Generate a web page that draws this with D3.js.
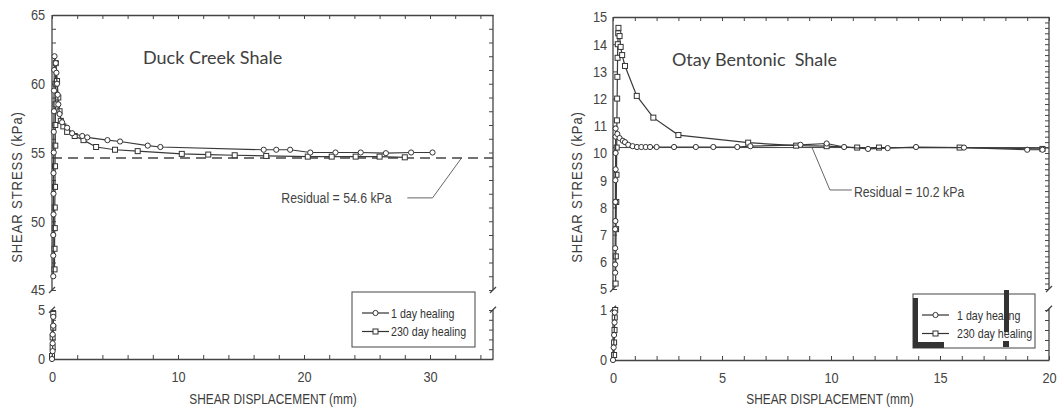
<!DOCTYPE html>
<meta charset="utf-8">
<style>
body { margin: 0; background: #fff; }
svg text { fill: #3c3c3c; }
.frame { stroke: #444; stroke-width: 1.3; fill: none; }
.tick line { stroke: #444; stroke-width: 1; }
.tick text { font-family: "Liberation Sans", Arial, sans-serif; font-size: 15px; fill: #444; }
.axis-title { font-family: "Liberation Sans", Arial, sans-serif; font-size: 14.5px; }
.panel-title { font-family: Lato, "Open Sans", sans-serif; font-size: 18px; white-space: pre; fill: #404040; }
.note { font-family: "Liberation Sans", Arial, sans-serif; font-size: 15px; fill: #444; }
.legend-text { font-family: "Liberation Sans", Arial, sans-serif; font-size: 13px; fill: #333; }
.curve { fill: none; stroke: #3a3a3a; stroke-width: 1.2; }
.mark { fill: #fff; stroke: #333; stroke-width: 1; }
</style>
<body>
<svg id="chart" width="1058" height="410"></svg>

<script src="https://cdn.jsdelivr.net/npm/d3@7/dist/d3.min.js"></script>
<script>
// ---- Duck Creek Shale ----
var duckDisp1 = [0, 0.05, 0.05, 0.05, 0.1, 0.1,
  0.1, 0.1, 0.1, 0.12, 0.12, 0.12, 0.14, 0.14, 0.16, 0.16, 0.18, 0.2, 0.3, 0.35, 0.4, 0.45, 0.5, 0.6, 0.8,
  1.2, 1.6, 2.4, 2.8, 4.4, 5.4, 7.6, 8.6, 16.8, 17.8, 18.9, 20.5, 22.5, 24.5, 26.5, 28.5, 30.2];
var duckStress1 = [0, 0.8, 1.6, 2.5, 3.4, 4.3,
  46, 47.5, 49, 50.5, 52, 53.5, 55, 56.5, 58, 59.5, 61, 62, 61.5, 60.8, 60, 59.2, 58.5, 57.8, 57.2,
  56.8, 56.4, 56.2, 56.1, 55.9, 55.8, 55.5, 55.4, 55.2, 55.2, 55.2, 55.0, 55.0, 55.0, 54.95, 55.0, 55.0];

var duckDisp230 = [0, 0.05, 0.05, 0.1, 0.1,
  0.2, 0.2, 0.22, 0.22, 0.24, 0.24, 0.26, 0.26, 0.28, 0.28, 0.3, 0.4, 0.5, 0.6, 0.7, 0.9,
  1.2, 1.8, 2.5, 3.5, 5, 6.8, 10.3, 12.4, 14.5, 17, 20.3, 22.2, 24.1, 26, 28];
var duckStress230 = [0.3, 1.2, 2.2, 3.2, 4.6,
  46.5, 48, 49.5, 51, 52.5, 54, 55.5, 57, 58.5, 60, 61.5, 60.2, 59, 58, 57.3, 56.9,
  56.5, 56.2, 55.9, 55.4, 55.2, 55.1, 54.9, 54.85, 54.8, 54.75, 54.7, 54.7, 54.7, 54.7, 54.65];

var duckXTicks = [0, 10, 20, 30];
var duckYLabels = [0, 5, 45, 50, 55, 60, 65];
var duckResidual = 54.6;

// ---- Otay Bentonic Shale ----
var otayDisp1 = [0, 0.03, 0.05, 0.07, 0.08,
  0.1, 0.1, 0.1, 0.1, 0.11, 0.11, 0.11, 0.12, 0.12, 0.12, 0.12, 0.2, 0.3, 0.45, 0.55, 0.7, 0.9,
  1.1, 1.3, 1.5, 1.7, 2.0, 2.8, 3.8, 4.6, 5.7, 6.3, 8.6, 9.8, 10.6, 11.7, 12.6, 13.9, 16.1, 19.0, 19.7];
var otayStress1 = [0, 0.25, 0.5, 0.75, 0.95,
  5.6, 5.9, 6.5, 7.2, 7.5, 8.2, 9.0, 9.4, 10.0, 10.6, 10.9, 10.7, 10.55, 10.45, 10.4, 10.3, 10.25,
  10.22, 10.22, 10.22, 10.22, 10.22, 10.22, 10.22, 10.22, 10.22, 10.25, 10.3, 10.35, 10.22, 10.15, 10.18, 10.22, 10.2, 10.12, 10.12];

var otayDisp230 = [0.05, 0.05, 0.07, 0.08, 0.1,
  0.12, 0.13, 0.14, 0.15, 0.16, 0.17, 0.18, 0.19, 0.2, 0.21, 0.22, 0.24, 0.25, 0.3, 0.35, 0.42, 0.55,
  1.09, 1.85, 3.0, 6.2, 8.4, 9.8, 11.2, 12.2, 15.9, 19.7];
var otayStress230 = [0.1, 0.35, 0.6, 0.85, 1.0,
  5.2, 6.2, 7.2, 8.2, 9.2, 10.2, 11.2, 12.0, 12.8, 13.5, 14.0, 14.4, 14.6, 14.3, 13.9, 13.6, 13.2,
  12.1, 11.3, 10.66, 10.38, 10.27, 10.25, 10.2, 10.2, 10.2, 10.15];

var otayXTicks = [0, 5, 10, 15, 20];
var otayYLabels = [0, 1, 5, 6, 7, 8, 9, 10, 11, 12, 13, 14, 15];
var otayResidual = 10.2;

var legendLabels = ["1 day healing", "230 day healing"];
var axisXTitle = "SHEAR DISPLACEMENT (mm)";
var axisYTitle = "SHEAR STRESS (kPa)";

var svg = d3.select("#chart");

// the scan uses a condensed face; squeeze the regular one horizontally
function narrowText(parent, cls, x, y, k, str, anchor, rot) {
  return parent.append("text").attr("class", cls)
    .attr("transform", "translate(" + x + "," + y + ")" + (rot ? " rotate(" + rot + ")" : "") + " scale(" + k + ",1)")
    .attr("text-anchor", anchor || "start")
    .text(str);
}

var panels = [
  {
    title: "Duck Creek Shale", titleX: 143, titleY: 64,
    left: 52, right: 493, top: 15, bottom: 359,
    xMax: 35, xMinorStep: 2, xLabels: duckXTicks,
    yDomain: [0, 5, 45, 65], yRange: [359, 310, 290, 15],
    lowTop: 5.6, yMinorLow: d3.range(0, 6, 1), yMinorUp: d3.range(45, 66, 1),
    yRightLow: d3.range(0, 6, 1), yRightUp: d3.range(45, 66, 1),
    yLabels: duckYLabels, yPad: 8,
    s1: [duckDisp1, duckStress1], s230: [duckDisp230, duckStress230],
    residual: duckResidual, residualDash: "10,6",
    note: "Residual = 54.6 kPa", noteAt: [18.2, 51.3],
    leader: [[28.2, 51.7], [30.2, 51.7], [32.5, 54.6]],
    legend: { x: 352, y: 292, w: 123, h: 55, lineX: 362, textX: 391 },
    ytX: 17, xtX: 273
  },
  {
    title: "Otay Bentonic  Shale", titleX: 672, titleY: 66,
    left: 613, right: 1049, top: 17, bottom: 360,
    xMax: 20, xMinorStep: 1, xLabels: otayXTicks,
    yDomain: [0, 1, 5, 15], yRange: [360, 310, 289, 17],
    lowTop: 1.25, yMinorLow: [0, 1], yMinorUp: d3.range(5, 16, 1),
    yRightLow: d3.range(0, 6, 1).map(function(d) { return d / 5; }),
    yRightUp: d3.range(25, 76, 1).map(function(d) { return d / 5; }),
    yLabels: otayYLabels, yPad: 7,
    s1: [otayDisp1, otayStress1], s230: [otayDisp230, otayStress230],
    residual: otayResidual, residualDash: null,
    note: "Residual = 10.2 kPa", noteAt: [11.05, 8.4],
    leader: [[10.96, 8.64], [9.95, 8.64], [9.13, 10.2]],
    legend: { x: 913, y: 294, w: 122, h: 54, lineX: 922, textX: 957, scanMarks: true },
    ytX: 577, xtX: 830
  }
];

panels.forEach(function(p) {
  var g = svg.append("g");
  var x = d3.scaleLinear().domain([0, p.xMax]).range([p.left, p.right]);
  var y = d3.scaleLinear().domain(p.yDomain).range(p.yRange);
  var lowMax = p.yDomain[1], upMin = p.yDomain[2], yMax = p.yDomain[3];

  // bottom axis, inward ticks
  var xb = g.append("g").attr("transform", "translate(0," + p.bottom + ")")
    .call(d3.axisBottom(x)
      .tickValues(d3.range(0, p.xMax + 0.001, p.xMinorStep))
      .tickSizeInner(-4).tickSizeOuter(0).tickPadding(12)
      .tickFormat(function(d) { return p.xLabels.indexOf(d) >= 0 ? d : ""; }));
  xb.attr("font-family", null).attr("font-size", null);
  xb.select(".domain").attr("class", "frame");
  xb.selectAll(".tick text").attr("transform", "scale(0.85,1)");

  // top frame
  var xt = g.append("g").attr("transform", "translate(0," + p.top + ")")
    .call(d3.axisTop(x).tickValues(d3.range(0, p.xMax + 0.001, p.xMinorStep))
      .tickSizeInner(-4).tickSizeOuter(0).tickFormat(""));
  xt.select(".domain").attr("class", "frame");

  // left axis (broken)
  var yl = g.append("g").attr("transform", "translate(" + p.left + ",0)")
    .call(d3.axisLeft(y).tickValues(p.yMinorLow.concat(p.yMinorUp))
      .tickSizeInner(-4).tickSizeOuter(0).tickPadding(p.yPad)
      .tickFormat(function(d) { return p.yLabels.indexOf(d) >= 0 ? d : ""; }));
  yl.attr("font-family", null).attr("font-size", null);
  yl.select(".domain").remove();
  yl.selectAll(".tick text").attr("transform", "scale(0.85,1)");

  // right frame (broken)
  var yr = g.append("g").attr("transform", "translate(" + p.right + ",0)")
    .call(d3.axisRight(y).tickValues(p.yRightLow.concat(p.yRightUp))
      .tickSizeInner(-4).tickSizeOuter(0).tickFormat(""));
  yr.select(".domain").remove();

  [p.left, p.right].forEach(function(ax) {
    g.append("line").attr("class", "frame")
      .attr("x1", ax).attr("x2", ax).attr("y1", y(0)).attr("y2", y(p.lowTop));
    g.append("line").attr("class", "frame")
      .attr("x1", ax).attr("x2", ax).attr("y1", y(upMin)).attr("y2", y(yMax));
    // break marks
    g.append("line").attr("class", "frame")
      .attr("x1", ax - 3).attr("x2", ax + 3).attr("y1", y(p.lowTop) + 3).attr("y2", y(p.lowTop) - 3);
    g.append("line").attr("class", "frame")
      .attr("x1", ax - 3).attr("x2", ax + 3).attr("y1", y(upMin) + 3).attr("y2", y(upMin) - 3);
  });

  // residual line
  g.append("line")
    .attr("x1", x(0)).attr("x2", x(p.xMax))
    .attr("y1", y(p.residual)).attr("y2", y(p.residual))
    .attr("stroke", "#444").attr("stroke-width", p.residualDash ? 1.3 : 1)
    .attr("stroke-dasharray", p.residualDash);

  var line = d3.line().x(function(d) { return x(d[0]); }).y(function(d) { return y(d[1]); });

  function drawSeries(s, shape) {
    var pts = d3.zip(s[0], s[1]);
    var low = pts.filter(function(d) { return d[1] <= lowMax; });
    var up = pts.filter(function(d) { return d[1] >= upMin; });
    [low, up].forEach(function(part) {
      g.append("path").attr("class", "curve").attr("d", line(part));
    });
    if (shape === "circle") {
      g.selectAll(null).data(pts).enter().append("circle").attr("class", "mark")
        .attr("cx", function(d) { return x(d[0]); })
        .attr("cy", function(d) { return y(d[1]); })
        .attr("r", 2.6);
    } else {
      g.selectAll(null).data(pts).enter().append("rect").attr("class", "mark")
        .attr("x", function(d) { return x(d[0]) - 2.5; })
        .attr("y", function(d) { return y(d[1]) - 2.5; })
        .attr("width", 5).attr("height", 5);
    }
  }
  drawSeries(p.s230, "square");
  drawSeries(p.s1, "circle");

  // annotation
  g.append("path")
    .attr("d", d3.line()(p.leader.map(function(d) { return [x(d[0]), y(d[1])]; })))
    .attr("fill", "none").attr("stroke", "#555").attr("stroke-width", 0.9);
  narrowText(g, "note", x(p.noteAt[0]), y(p.noteAt[1]), 0.82, p.note);

  // titles
  g.append("text").attr("class", "panel-title")
    .attr("x", p.titleX).attr("y", p.titleY).text(p.title);
  narrowText(g, "axis-title", p.xtX, 404, 0.82, axisXTitle, "middle");
  narrowText(g, "axis-title", p.ytX + 5, 187, 0.9, axisYTitle, "middle", -90)
    .style("letter-spacing", "1px");

  // legend
  var L = p.legend;
  var lg = g.append("g");
  lg.append("rect").attr("x", L.x).attr("y", L.y).attr("width", L.w).attr("height", L.h)
    .attr("fill", "#fff").attr("stroke", "#555").attr("stroke-width", 1.1);
  legendLabels.forEach(function(lab, i) {
    var cy = L.y + 21 + i * 18.5;
    lg.append("line").attr("x1", L.lineX).attr("x2", L.lineX + 27)
      .attr("y1", cy).attr("y2", cy).attr("stroke", "#333").attr("stroke-width", 1.2);
    var mx = L.lineX + 13.5;
    if (i === 0) {
      lg.append("circle").attr("class", "mark").attr("cx", mx).attr("cy", cy).attr("r", 2.6);
    } else {
      lg.append("rect").attr("class", "mark").attr("x", mx - 2.5).attr("y", cy - 2.5)
        .attr("width", 5).attr("height", 5);
    }
    narrowText(lg, "legend-text", L.textX, cy + 4.5, 0.82, lab);
  });
  if (L.scanMarks) {
    // heavy dark marks from the scan around this legend
    lg.append("rect").attr("x", L.x).attr("y", L.y + 4).attr("width", 5).attr("height", L.h - 4).attr("fill", "#333");
    lg.append("rect").attr("x", L.x).attr("y", L.y + L.h - 6).attr("width", 31).attr("height", 6).attr("fill", "#333");
    lg.append("rect").attr("x", L.x + 91).attr("y", L.y - 4).attr("width", 5).attr("height", 42).attr("fill", "#333");
    lg.append("rect").attr("x", L.x + 90).attr("y", L.y + L.h - 7).attr("width", 6).attr("height", 6).attr("fill", "#333");
  }
});
</script>
</body>
